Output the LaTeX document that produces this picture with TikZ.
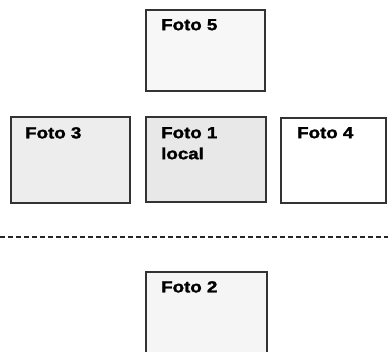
\documentclass[tikz,border=0pt]{standalone}
\usepackage{fontspec}
\setmainfont{Liberation Sans}
\newfontfamily\fotofont{Liberation Sans Bold}[FakeBold=1.6]
\newcommand{\fotowide}[1]{\scalebox{1.17}[1]{#1}}
\begin{document}
\begin{tikzpicture}[x=1pt,y=-1pt,
  fotobox/.style={draw=black!80,line width=1.3pt},
  fotolabel/.style={anchor=north west,inner sep=0pt,align=left,font=\fontsize{16}{21}\selectfont\fotofont}]
\useasboundingbox (0,0) rectangle (388,352);
% boxes
\path[fotobox,fill=black!3] (146,10) rectangle (265,91);
\path[fotobox,fill=black!7] (11,117) rectangle (130,203);
\path[fotobox,fill=black!9] (146,117) rectangle (266,202);
\path[fotobox,fill=white] (281,118) rectangle (386,203);
\path[fotobox,fill=black!4] (146,272) rectangle (267,360);
% labels
\node[fotolabel] (t5) at (161,19) {\fotowide{Foto 5}};
\node[fotolabel] (t3) at (25,127) {\fotowide{Foto 3}};
\node[fotolabel] (t1) at (161,127) {\fotowide{Foto 1}\\\fotowide{local}};
\node[fotolabel] (t4) at (297,127) {\fotowide{Foto 4}};
\node[fotolabel] (t2) at (161,281) {\fotowide{Foto 2}};
% dashed separator
\coordinate (dl) at (0,237);
\coordinate (dr) at (388,237);
\draw[black!85,line width=1.2pt,dash pattern=on 5pt off 3pt] (dl) -- (dr);
\end{tikzpicture}
\end{document}
